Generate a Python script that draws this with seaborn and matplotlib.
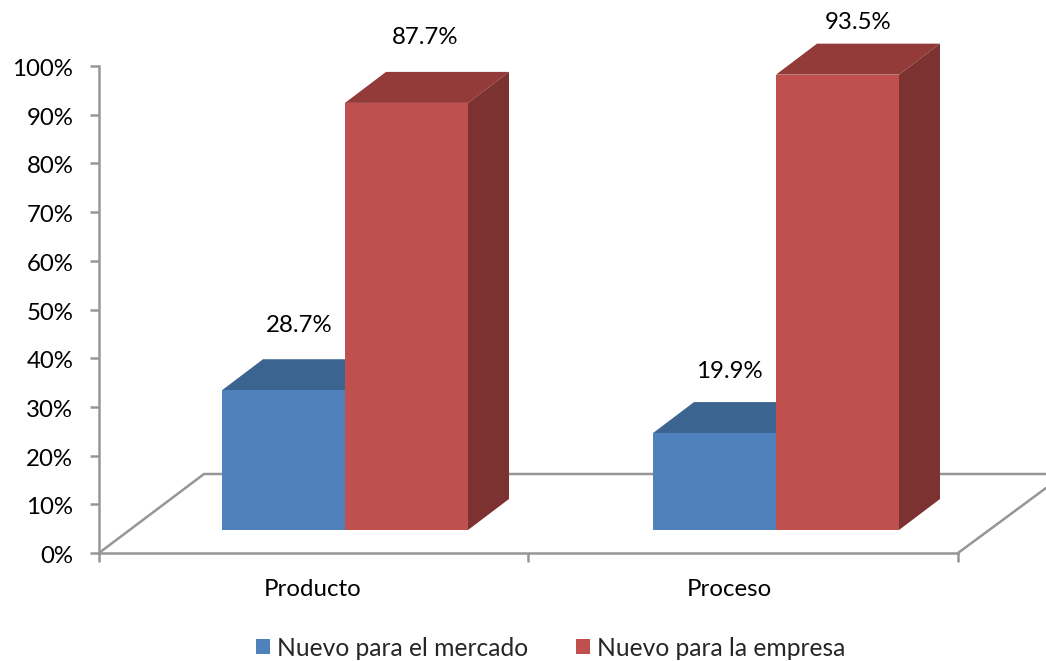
import matplotlib
matplotlib.use("Agg")
import matplotlib.pyplot as plt
from matplotlib.patches import Polygon
from matplotlib.transforms import ScaledTranslation
import pandas as pd
import seaborn as sns

categories = ["Producto", "Proceso"]
series_names = ["Nuevo para el mercado", "Nuevo para la empresa"]
mercado = [28.7, 19.9]
empresa = [87.7, 93.5]
y_ticks = list(range(0, 101, 10))

W, H = 1046, 661
COL_FRONT = ["#4F81BD", "#C0504D"]
COL_TOP = ["#3B6491", "#933B38"]
COL_SIDE = ["#2F5078", "#7C3230"]
GRID = "#969696"
FS = 17.3
LW = 1.8

df = pd.DataFrame({
    "cat": categories * 2,
    "serie": [series_names[0]] * 2 + [series_names[1]] * 2,
    "val": mercado + empresa,
})

sns.set_theme(style="white")
plt.rcParams["font.family"] = ["Lato", "DejaVu Sans"]

fig = plt.figure(figsize=(W / 100, H / 100), dpi=100)
ax = fig.add_axes([99 / W, (H - 553) / H, (W - 99) / W, 553 / H])

sns.barplot(data=df, x="cat", y="val", hue="serie", order=categories,
            hue_order=series_names, palette=COL_FRONT, width=246 / 431,
            gap=0, linewidth=0, saturation=1, errorbar=None, ax=ax, zorder=3)

PX_X, PX_Y = 431.0, 4.87
fx = lambda px: (px - 345) / PX_X
fy = lambda py: (553 - py) / PX_Y
ax.set_xlim(fx(99), fx(W))
ax.set_ylim(0, 553 / PX_Y)

base = 23 / PX_Y
ddx, ddy = 41 / PX_X, 31 / PX_Y
bars = [p for p in ax.patches if p.get_height() > 0]
label_dx = [-5, -6, -2, 0]
label_dy = [34, 31, 34, 21]
for i, p in enumerate(bars):
    s = i // 2
    p.set_y(base)
    x0, w, h = p.get_x(), p.get_width(), p.get_height()
    x1, y1 = x0 + w, base + h
    ax.add_patch(Polygon([(x0, y1), (x1, y1), (x1 + ddx, y1 + ddy), (x0 + ddx, y1 + ddy)],
                         fc=COL_TOP[s], ec="none", zorder=2.5, clip_on=False))
    ax.add_patch(Polygon([(x1, base), (x1 + ddx, base + ddy), (x1 + ddx, y1 + ddy), (x1, y1)],
                         fc=COL_SIDE[s], ec="none", zorder=2.5, clip_on=False))
    ax.text(x0 + w / 2 + ddx / 2 + label_dx[i] / PX_X, y1 + ddy + label_dy[i] / PX_Y,
            f"{h:.1f}%", ha="center", va="center", fontsize=FS, color="black", clip_on=False)

# floor outline
ax.plot([fx(99), fx(204), fx(W)], [fy(553), fy(474), fy(474)], color=GRID, lw=LW, zorder=1, clip_on=False)
ax.plot([fx(958), fx(W)], [fy(553), fy(488)], color=GRID, lw=LW, zorder=1, clip_on=False)

sns.despine(ax=ax, top=True, right=True)
ax.spines["left"].set_bounds(0, 100)
ax.spines["left"].set_color(GRID)
ax.spines["left"].set_linewidth(LW)
ax.spines["bottom"].set_bounds(fx(99), fx(958))
ax.spines["bottom"].set_color(GRID)
ax.spines["bottom"].set_linewidth(LW)

ax.set_yticks(y_ticks)
ax.set_yticklabels([f"{t}%" for t in y_ticks], fontsize=FS, color="black")
ax.set_xticks([fx(99), fx(528), fx(958)])
ax.set_xticklabels([])
ax.tick_params(axis="both", length=6.5, width=LW, color=GRID, bottom=True, left=True, pad=12)
ax.set_xlabel("")
ax.set_ylabel("")

# nudge the y tick labels down by about a pixel and a half
nudge = ScaledTranslation(0, -1.5 / 100, fig.dpi_scale_trans)
for lab in ax.get_yticklabels():
    lab.set_transform(lab.get_transform() + nudge)

for cat, px in zip(categories, [313, 729]):
    ax.text(fx(px), fy(589), cat, ha="center", va="center", fontsize=FS, color="black", clip_on=False)

handles, labels = ax.get_legend_handles_labels()
if ax.get_legend():
    ax.get_legend().remove()
fig.legend(handles, labels, ncol=2, loc="center", bbox_to_anchor=(551 / W, 1 - 648 / H),
           frameon=False, fontsize=17.7, handlelength=0.57, handleheight=0.55,
           handletextpad=0.29, columnspacing=1.95, borderpad=0)

fig.savefig("out.png", dpi=100, facecolor="white")
